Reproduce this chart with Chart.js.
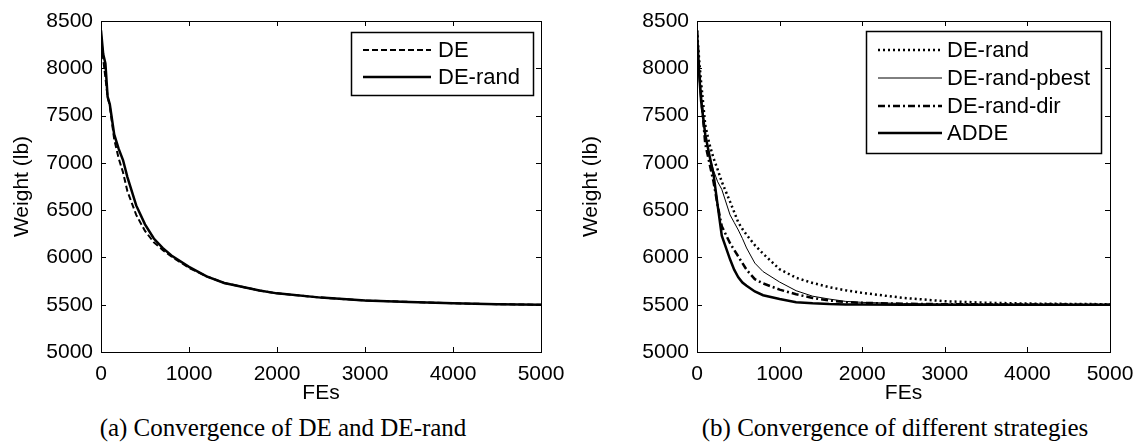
<!DOCTYPE html>
<html>
<head>
<meta charset="utf-8">
<script src="https://cdn.jsdelivr.net/npm/chart.js@4.4.1/dist/chart.umd.min.js"></script>
<style>
  html, body { margin: 0; padding: 0; background: #fff; }
  #wrap { position: relative; width: 1138px; height: 445px; overflow: hidden; background: #fff; }
  canvas { position: absolute; top: 0; }
  .cap { position: absolute; top: 413px; font-family: "Liberation Serif", "Times New Roman", serif; font-size: 25px; line-height: 29px; color: #000; white-space: nowrap; transform: translateX(-50%); }
</style>
</head>
<body>
<div id="wrap">
  <canvas id="c1" width="569" height="406" style="left:0px"></canvas>
  <canvas id="c2" width="569" height="406" style="left:569px"></canvas>
  <div class="cap" style="left:283px">(a) Convergence of DE and DE-rand</div>
  <div class="cap" style="left:895px">(b) Convergence of different strategies</div>
</div>
<script>
// ---------- data ----------
const feA = [0,25,50,75,100,150,200,250,300,400,500,600,700,800,1000,1200,1400,1600,1800,2000,2500,3000,3500,4000,4500,5000];
const deA = [8350,8100,7900,7700,7600,7250,7050,6900,6700,6450,6280,6160,6080,6010,5890,5800,5730,5690,5650,5620,5575,5545,5530,5515,5505,5500];
const deRandA = [8400,8150,8050,7700,7620,7300,7150,7030,6850,6550,6350,6200,6100,6020,5900,5800,5730,5690,5650,5620,5575,5545,5530,5515,5505,5500];

const feB = [0,25,50,100,150,200,250,300,400,450,500,550,600,700,800,1000,1200,1400,1600,1800,2000,2500,3000,3500,4000,5000];
const deRandB = [8400,8100,7850,7400,7200,7050,6930,6800,6590,6480,6370,6300,6240,6130,6040,5875,5785,5730,5685,5652,5625,5572,5537,5521,5512,5505];
const pbestB = [8400,8050,7750,7300,7080,6920,6800,6720,6450,6370,6290,6200,6100,5940,5850,5740,5648,5590,5560,5535,5525,5512,5506,5504,5502,5500];
const dirB = [8400,8000,7700,7200,7000,6800,6550,6330,6150,6080,6010,5940,5870,5770,5725,5660,5610,5572,5545,5527,5520,5510,5505,5503,5502,5500];
const addeB = [8400,7950,7650,7300,7080,6880,6550,6230,5980,5870,5790,5735,5700,5640,5600,5560,5527,5515,5507,5503,5502,5500,5500,5500,5500,5500];

const xTicks = [0,1000,2000,3000,4000,5000];
const yTicks = [5000,5500,6000,6500,7000,7500,8000,8500];
const labelsA = ['DE','DE-rand'];
const labelsB = ['DE-rand','DE-rand-pbest','DE-rand-dir','ADDE'];

// ---------- helpers ----------
const toXY = (xs, ys) => xs.map((x, i) => ({x, y: ys[i]}));
const FONT = '"Liberation Sans", Arial, sans-serif';

const boxPlugin = {
  id: 'boxPlugin',
  afterDraw(chart, args, opts) {
    const {ctx, chartArea: a, scales: {x, y}} = chart;
    ctx.save();
    ctx.strokeStyle = '#000';
    ctx.lineWidth = 1;
    ctx.setLineDash([]);
    ctx.strokeRect(Math.round(a.left) + 0.5, Math.round(a.top) + 0.5, Math.round(a.right - a.left), Math.round(a.bottom - a.top));
    const tl = 5;
    ctx.beginPath();
    xTicks.forEach(v => {
      const px = Math.round(x.getPixelForValue(v)) + 0.5;
      ctx.moveTo(px, a.bottom); ctx.lineTo(px, a.bottom - tl);
      ctx.moveTo(px, a.top); ctx.lineTo(px, a.top + tl);
    });
    yTicks.forEach(v => {
      const py = Math.round(y.getPixelForValue(v)) + 0.5;
      ctx.moveTo(a.left, py); ctx.lineTo(a.left + tl, py);
      ctx.moveTo(a.right, py); ctx.lineTo(a.right - tl, py);
    });
    ctx.stroke();

    // legend
    const L = opts.legend;
    ctx.fillStyle = '#fff';
    ctx.fillRect(L.x1, L.y1, L.x2 - L.x1, L.y2 - L.y1);
    ctx.lineWidth = 1.5;
    ctx.strokeRect(L.x1 + 0.5, L.y1 + 0.5, L.x2 - L.x1, L.y2 - L.y1);
    ctx.font = L.font;
    ctx.textBaseline = 'middle';
    ctx.textAlign = 'left';
    chart.data.datasets.forEach((ds, i) => {
      const ry = L.rows[i];
      ctx.beginPath();
      ctx.strokeStyle = '#000';
      ctx.lineWidth = ds.borderWidth;
      ctx.setLineDash(ds.borderDash || []);
      ctx.moveTo(L.lx1, ry); ctx.lineTo(L.lx2, ry);
      ctx.stroke();
      ctx.setLineDash([]);
      ctx.fillStyle = '#000';
      ctx.fillText(ds.label, L.tx, ry + 1);
    });
    ctx.restore();
  }
};

function makeOptions(yAxisWidth, legend) {
  return {
    responsive: false,
    animation: false,
    devicePixelRatio: 1,
    layout: { padding: { left: 0, top: 21, right: 28, bottom: 0 } },
    plugins: {
      legend: { display: false },
      tooltip: { enabled: false },
      boxPlugin: { legend }
    },
    elements: { point: { radius: 0 }, line: { tension: 0 } },
    scales: {
      x: {
        type: 'linear', min: 0, max: 5000,
        grid: { display: false, drawTicks: false },
        border: { display: false },
        afterBuildTicks: s => { s.ticks = xTicks.map(v => ({value: v})); },
        afterFit: s => { s.height = 54; s.paddingLeft = 0; s.paddingRight = 0; },
        ticks: { color: '#000', font: { family: FONT, size: 21 }, padding: 10, maxRotation: 0, callback: v => String(v) },
        title: { display: true, text: 'FEs', color: '#000', font: { family: FONT, size: 21 }, padding: { top: 0, bottom: 0 } }
      },
      y: {
        type: 'linear', min: 5000, max: 8500,
        grid: { display: false, drawTicks: false },
        border: { display: false },
        afterBuildTicks: s => { s.ticks = yTicks.map(v => ({value: v})); },
        afterFit: s => { s.width = yAxisWidth; },
        ticks: { color: '#000', font: { family: FONT, size: 21 }, padding: 8, callback: v => String(v) },
        title: { display: true, text: 'Weight (lb)', color: '#000', font: { family: FONT, size: 21 }, padding: { top: 10, bottom: 0 } }
      }
    }
  };
}

new Chart(document.getElementById('c1'), {
  type: 'line',
  data: {
    datasets: [
      { label: labelsA[0], data: toXY(feA, deA), borderColor: '#000', borderWidth: 2, borderDash: [6, 3], fill: false },
      { label: labelsA[1], data: toXY(feA, deRandA), borderColor: '#000', borderWidth: 2.5, fill: false }
    ]
  },
  options: makeOptions(101, { x1: 351, y1: 32, x2: 533, y2: 95, rows: [50, 77], lx1: 363, lx2: 431, tx: 438, font: '22px ' + FONT }),
  plugins: [boxPlugin]
});

new Chart(document.getElementById('c2'), {
  type: 'line',
  data: {
    datasets: [
      { label: labelsB[0], data: toXY(feB, deRandB), borderColor: '#000', borderWidth: 2.5, borderDash: [2, 3], fill: false },
      { label: labelsB[1], data: toXY(feB, pbestB), borderColor: '#000', borderWidth: 1, fill: false },
      { label: labelsB[2], data: toXY(feB, dirB), borderColor: '#000', borderWidth: 2.5, borderDash: [7, 3, 2, 3], fill: false },
      { label: labelsB[3], data: toXY(feB, addeB), borderColor: '#000', borderWidth: 2.5, fill: false }
    ]
  },
  options: makeOptions(128, { x1: 297, y1: 31, x2: 532, y2: 153, rows: [50, 78, 106, 133], lx1: 309, lx2: 373, tx: 378, font: '22px ' + FONT }),
  plugins: [boxPlugin]
});
</script>
</body>
</html>
